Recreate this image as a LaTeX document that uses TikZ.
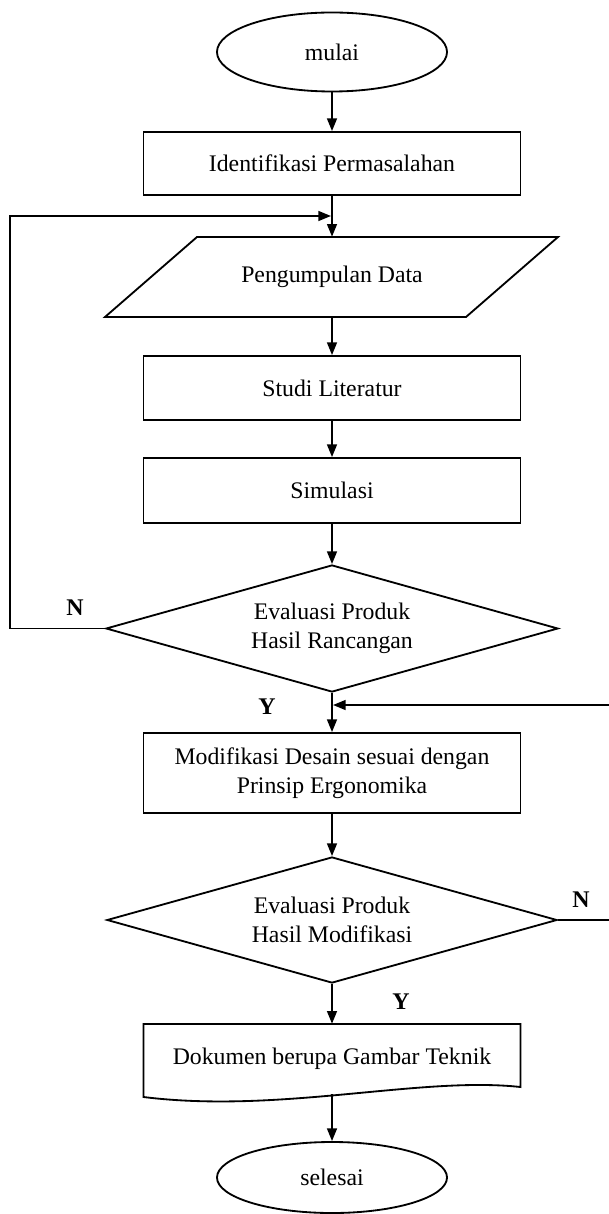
\documentclass[tikz,border=0pt]{standalone}
\usepackage{fontspec}
\setmainfont{Liberation Serif}
\usetikzlibrary{shapes.geometric,arrows.meta}

\tikzset{
  kotak/.style={draw, rectangle, line width=1.3pt, minimum width=9.425cm, inner sep=0pt, align=center},
  oval/.style={draw, ellipse, line width=1.3pt, minimum width=5.75cm, inner sep=0pt},
  belah/.style={draw, diamond, line width=1.3pt, aspect=3.5, inner sep=0pt, align=center},
  panah/.style={draw, line width=1.3pt, -{Triangle[length=9pt,width=7pt]}},
  huruf/.style={font=\fontsize{17}{20}\selectfont\bfseries}
}

\begin{document}
\begin{tikzpicture}[x=0.025cm, y=-0.025cm, font=\fontsize{16.9}{21}\selectfont]
\useasboundingbox (0,0) rectangle (608,1214);

\node[oval, minimum height=1.975cm] (mulai) at (332,52) {mulai};
\node[kotak, minimum height=1.575cm] (ident) at (332,163.5) {Identifikasi Permasalahan};
\draw[line width=1.3pt] (197,237) -- (558,237) -- (466,317) -- (105,317) -- cycle;
\node[inner sep=0pt, minimum width=9.025cm, minimum height=2cm] (data) at (332,277) {Pengumpulan Data};
\node[kotak, minimum height=1.6cm] (studi) at (332,388) {Studi Literatur};
\node[kotak, minimum height=1.625cm] (simulasi) at (332,490.5) {Simulasi};
\node[belah, minimum width=11.3cm, minimum height=3.175cm] (eval1) at (332,628.5) {Evaluasi Produk\\Hasil Rancangan};
\node[kotak, minimum height=2cm] (modif) at (332,773) {Modifikasi Desain sesuai dengan\\Prinsip Ergonomika};
\node[belah, minimum width=11.25cm, minimum height=3.15cm] (eval2) at (332,920) {Evaluasi Produk\\Hasil Modifikasi};
\draw[line width=1.3pt] (143.5,1024) -- (520.5,1024) -- (520.5,1087)
  .. controls (420,1076) and (280,1114) .. (143.5,1097) -- cycle;
\node[inner sep=0pt, minimum width=9.425cm, minimum height=1.75cm] (dok) at (332,1059) {Dokumen berupa Gambar Teknik};
\node[oval, minimum height=1.775cm] (selesai) at (332,1177.5) {selesai};

\node[huruf] (n1) at (75,608) {N};
\node[huruf] (y1) at (267,707) {Y};
\node[huruf] (n2) at (581,900) {N};
\node[huruf] (y2) at (401,1002) {Y};

\coordinate (kiri) at (10,628.5);
\coordinate (atas) at (331,216);
\coordinate (kanan) at (614,920);
\coordinate (bawah) at (333,705);

\path[panah] (mulai) -- (ident);
\path[panah] (ident) -- (data);
\path[panah] (data) -- (studi);
\path[panah] (studi) -- (simulasi);
\path[panah] (simulasi) -- (eval1);
\path[panah] (eval1) -- (modif);
\path[panah] (modif) -- (eval2);
\path[panah] (eval2) -- (dok);
\path[panah] (dok) -- (selesai);

\path[panah] (eval1.west) -- (kiri) |- (atas);
\path[panah] (eval2.east) -- (kanan) |- (bawah);
\end{tikzpicture}
\end{document}
